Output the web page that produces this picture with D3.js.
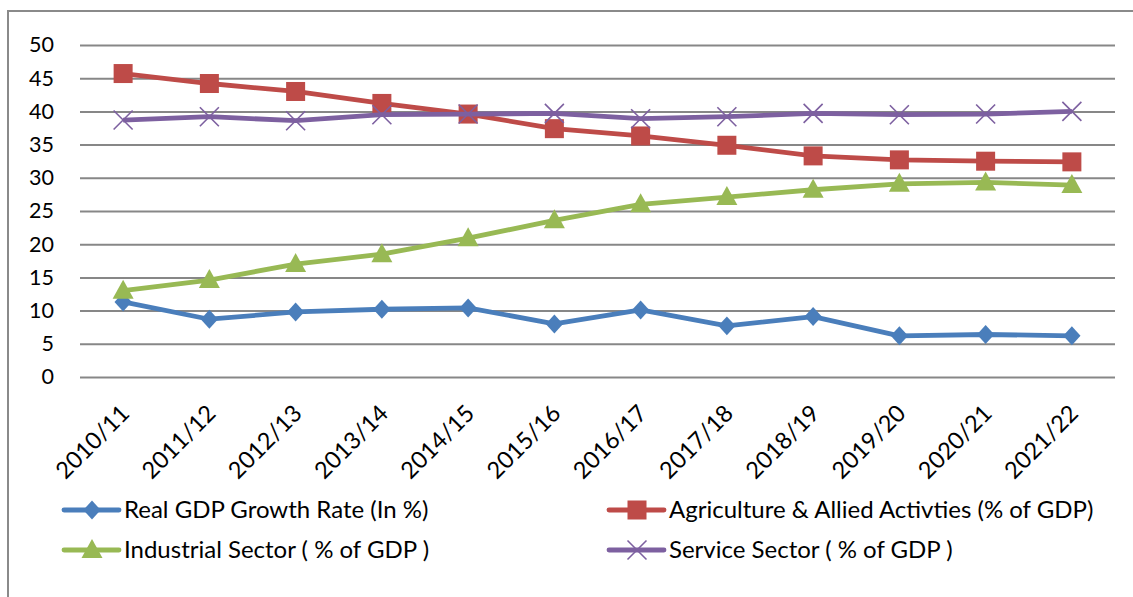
<!DOCTYPE html>
<html>
<head>
<meta charset="utf-8">
<script src="https://cdn.jsdelivr.net/npm/d3@7"></script>
<style>
  html, body { margin: 0; padding: 0; background: #fff; }
  svg { display: block; }
  text { font-family: Lato, "Open Sans", sans-serif; fill: #000; }
</style>
</head>
<body>
<svg id="chart" width="1133" height="597"></svg>
<script>
// Fiscal years on the category axis
const years = ["2010/11", "2011/12", "2012/13", "2013/14", "2014/15", "2015/16",
               "2016/17", "2017/18", "2018/19", "2019/20", "2020/21", "2021/22"];

// Series values (percent)
const gdpGrowth   = [11.3, 8.7, 9.8, 10.2, 10.4, 8.0, 10.1, 7.7, 9.1, 6.2, 6.4, 6.2];
const agriculture = [45.7, 44.2, 43.0, 41.2, 39.6, 37.4, 36.3, 34.9, 33.3, 32.7, 32.5, 32.4];
const industry    = [13.0, 14.6, 17.0, 18.5, 20.9, 23.6, 26.0, 27.1, 28.2, 29.1, 29.3, 28.9];
const services    = [38.7, 39.2, 38.6, 39.5, 39.6, 39.7, 38.9, 39.2, 39.7, 39.5, 39.6, 40.0];

// Value-axis ticks
const yTicks = [0, 5, 10, 15, 20, 25, 30, 35, 40, 45, 50];

const series = [
  { name: "Real GDP Growth Rate (In %)",               values: gdpGrowth,   color: "#4A7EBB", marker: "diamond"  },
  { name: "Agriculture & Allied Activties (% of GDP)", values: agriculture, color: "#BE4B48", marker: "square"   },
  { name: "Industrial Sector ( % of GDP )",            values: industry,    color: "#98B954", marker: "triangle" },
  { name: "Service Sector ( % of GDP )",               values: services,    color: "#7D60A0", marker: "cross"    }
];

const svg = d3.select("#chart");

// Outer chart frame
svg.append("rect")
  .attr("x", 8).attr("y", 11)
  .attr("width", 1140).attr("height", 600)
  .attr("fill", "none").attr("stroke", "#8A8A8A").attr("stroke-width", 2);

const plot = { left: 80, right: 1115, top: 45, bottom: 377 };

const x = d3.scaleBand().domain(years).range([plot.left, plot.right]);
const y = d3.scaleLinear().domain([0, 50]).range([plot.bottom, plot.top]);
const cx = d => x(d) + x.bandwidth() / 2;

// Horizontal gridlines and value labels
const yAxis = d3.axisLeft(y).tickValues(yTicks).tickSize(-(plot.right - plot.left)).tickPadding(26);
const gy = svg.append("g").attr("transform", `translate(${plot.left},0)`).call(yAxis);
gy.select(".domain").remove();
gy.selectAll(".tick line").attr("stroke", "#878787").attr("stroke-width", 2);
gy.selectAll(".tick text").attr("font-size", 21.5).attr("fill", "#000")
  .style("font-family", "Lato, 'Open Sans', sans-serif");

// Rotated category labels
const xAxis = d3.axisBottom(x).tickSize(0).tickPadding(0);
const gx = svg.append("g").attr("transform", `translate(0,${plot.bottom})`).call(xAxis);
gx.select(".domain").remove();
gx.selectAll(".tick text")
  .attr("font-size", 23.5).attr("fill", "#000")
  .style("font-family", "Lato, 'Open Sans', sans-serif")
  .attr("text-anchor", "end")
  .attr("dy", "0.35em")
  .attr("transform", "translate(2,32) rotate(-45)");

// Marker shapes
function drawMarker(g, type, color, px, py) {
  if (type === "diamond") {
    g.append("path").attr("d", d3.symbol().type(d3.symbolDiamond2).size(190)())
      .attr("transform", `translate(${px},${py}) scale(1,1.1)`)
      .attr("fill", color);
  } else if (type === "square") {
    g.append("rect").attr("x", px - 9.5).attr("y", py - 9.5)
      .attr("width", 19).attr("height", 19).attr("fill", color);
  } else if (type === "triangle") {
    g.append("path").attr("d", `M${px},${py - 11} L${px + 10.5},${py + 8} L${px - 10.5},${py + 8} Z`)
      .attr("fill", color);
  } else if (type === "cross") {
    g.append("path").attr("d", `M${px - 9.5},${py - 9.5} L${px + 9.5},${py + 9.5} M${px + 9.5},${py - 9.5} L${px - 9.5},${py + 9.5}`)
      .attr("stroke", color).attr("stroke-width", 1.6).attr("fill", "none");
  }
}

const line = d3.line().x((v, i) => cx(years[i])).y(v => y(v));

// Lines first, then markers, in series order
series.forEach(s => {
  const g = svg.append("g");
  g.append("path").datum(s.values).attr("d", line)
    .attr("fill", "none").attr("stroke", s.color)
    .attr("stroke-width", 4.8).attr("stroke-linejoin", "round");
  s.values.forEach((v, i) => drawMarker(g, s.marker, s.color, cx(years[i]), y(v)));
});

// Legend, two columns by two rows
const legendPos = [
  { lx: 64,  ly: 510 },
  { lx: 609, ly: 510 },
  { lx: 64,  ly: 550 },
  { lx: 609, ly: 550 }
];
series.forEach((s, i) => {
  const p = legendPos[i];
  const g = svg.append("g");
  g.append("line").attr("x1", p.lx).attr("x2", p.lx + 55).attr("y1", p.ly).attr("y2", p.ly)
    .attr("stroke", s.color).attr("stroke-width", 4.8).attr("stroke-linecap", "round");
  drawMarker(g, s.marker, s.color, p.lx + 28, p.ly);
  g.append("text").attr("x", p.lx + 60).attr("y", p.ly).attr("dy", "0.35em")
    .attr("font-size", 24).text(s.name);
});
</script>
</body>
</html>
